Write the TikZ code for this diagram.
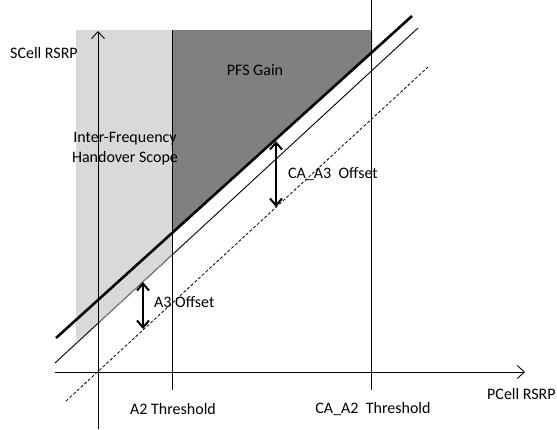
\documentclass[tikz,border=0pt]{standalone}
\usepackage{fontspec}
\setmainfont{Carlito}
\usetikzlibrary{arrows.meta}
\definecolor{lightfill}{HTML}{D9D9D9}
\definecolor{darkfill}{HTML}{808080}
\tikzset{
  lbl/.style={font=\fontsize{16}{19}\selectfont, inner sep=0pt},
  axis/.style={line width=0.9pt, -{Straight Barb[length=7pt,width=13pt,line width=0.9pt]}},
  thinln/.style={line width=0.9pt},
  thickln/.style={line width=2.6pt},
  dashln/.style={line width=0.8pt, dash pattern=on 3pt off 2pt},
  offarrow/.style={line width=2.2pt, {Straight Barb[length=7pt,width=12pt,line width=2pt]}-{Straight Barb[length=7pt,width=12pt,line width=2pt]}}
}
\begin{document}
\begin{tikzpicture}[x=1pt,y=-1pt]
\useasboundingbox (0,0) rectangle (557,429);
% shaded regions
\fill[lightfill] (76,30) -- (172,30) -- (172,255) -- (80,340) -- (76,340) -- cycle;
\fill[darkfill] (172,30) -- (372,30) -- (372,52) -- (172,233) -- cycle;
% coordinates
\coordinate (yb) at (98,429);
\coordinate (yt) at (98,31);
\coordinate (xl) at (55,372);
\coordinate (xr) at (525,372);
\coordinate (a2t) at (172,30);
\coordinate (a2b) at (172,390);
\coordinate (ca2t) at (371,0);
\coordinate (ca2b) at (371,390);
\coordinate (tk1) at (56,338);
\coordinate (tk2) at (412,16);
\coordinate (tn1) at (55,363);
\coordinate (tn2) at (418,28);
\coordinate (tnA) at (98,323.3);
\coordinate (tnB) at (172,255);
\coordinate (ds1) at (66,401);
\coordinate (ds2) at (428,67);
\coordinate (c3t) at (276,141);
\coordinate (c3b) at (276,207);
\coordinate (a3t) at (143,282);
\coordinate (a3b) at (143,329);
% lines
\draw[thinln] (a2t) -- (a2b);
\draw[thinln] (ca2t) -- (ca2b);
\draw[thinln] (tn1) -- (tn2);
\draw[line width=0.9pt, black!45] (tnA) -- (tnB);
\draw[dashln] (ds1) -- (ds2);
\draw[thickln] (tk1) -- (tk2);
\draw[axis] (yb) -- (yt);
\draw[axis] (xl) -- (xr);
\draw[offarrow] (c3t) -- (c3b);
\draw[offarrow] (a3t) -- (a3b);
% labels
\node[lbl, anchor=west] (sc) at (10,53) {SCell RSRP};
\node[lbl] (pfs) at (255,70) {PFS Gain};
\node[lbl] (if1) at (125,139) {Inter-Frequency};
\node[lbl] (if2) at (125,158) {Handover Scope};
\node[lbl, anchor=west] (ca3) at (288,174) {CA\_A3\ \ Offset};
\node[lbl, anchor=west] (a3) at (154,302) {A3 Offset};
\node[lbl] (a2) at (173,409) {A2 Threshold};
\node[lbl] (ca2) at (373,409) {CA\_A2\ \ Threshold};
\node[lbl, anchor=west] (pc) at (487,394) {PCell RSRP};
\end{tikzpicture}
\end{document}
